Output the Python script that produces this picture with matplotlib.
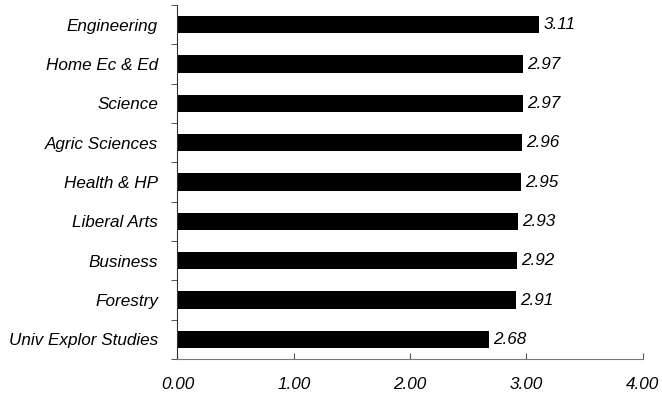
import matplotlib
matplotlib.use('Agg')
import matplotlib.pyplot as plt
import numpy as np

colleges = ['Engineering', 'Home Ec & Ed', 'Science', 'Agric Sciences', 'Health & HP',
            'Liberal Arts', 'Business', 'Forestry', 'Univ Explor Studies']
gpa = [3.11, 2.97, 2.97, 2.96, 2.95, 2.93, 2.92, 2.91, 2.68]
x_ticks = [0, 1, 2, 3, 4]

plt.rcParams['font.family'] = ['Liberation Sans', 'DejaVu Sans']
fs = 12.3

fig = plt.figure(figsize=(6.62, 3.97), dpi=100)
ax = fig.add_axes([0.268, 0.0957, 0.703, 0.8917])

y = np.arange(len(colleges))
ax.barh(y, gpa, height=0.44, color='black')
for yi, v in zip(y, gpa):
    ax.text(v + 0.035, yi, f'{v:.2f}', va='center', ha='left',
            fontsize=fs, style='italic')

ax.set_ylim(len(colleges) - 0.5, -0.5)
ax.set_xlim(0, 4)
ax.set_xticks(x_ticks)
ax.set_xticklabels([f'{t:.2f}' for t in x_ticks], fontsize=fs, style='italic')
ax.set_yticks(y)
ax.set_yticklabels(colleges, fontsize=fs, style='italic')
ax.set_yticks(np.arange(len(colleges) + 1) - 0.5, minor=True)

ax.tick_params(axis='y', which='major', length=0, pad=14)
ax.tick_params(axis='y', which='minor', length=4, direction='out', color='#333333')
ax.tick_params(axis='x', length=4, direction='in', pad=13, color='#555555')

ax.spines['top'].set_visible(False)
ax.spines['right'].set_visible(False)
ax.spines['left'].set_color('#333333')
ax.spines['bottom'].set_color('#777777')

fig.savefig('out.png', dpi=100)
